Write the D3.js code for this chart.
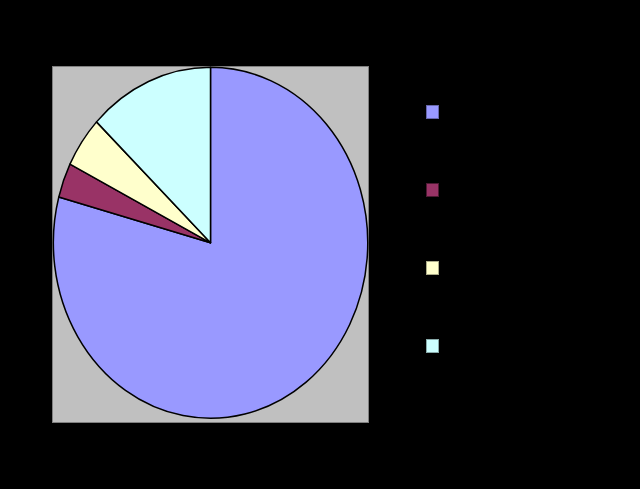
<!DOCTYPE html>
<html><head><meta charset="utf-8">
<script src="https://cdn.jsdelivr.net/npm/d3@7"></script>
<style>html,body{margin:0;padding:0;background:#000;}</style>
</head><body>
<svg id="c" width="640" height="489"></svg>
<script>
const categories = ["1", "2", "3", "4"];
const values = [79.2, 3.2, 4.7, 12.9];
const colors = ["#9999FF", "#993366", "#FFFFCC", "#CCFFFF"];
const borders = ["#6666AA", "#4d1a33", "#AAAA88", "#88AAAA"];

const svg = d3.select("#c");
svg.append("rect").attr("width",640).attr("height",489).attr("fill","#000");

// plot area
svg.append("rect").attr("x",52.5).attr("y",66.5).attr("width",316).attr("height",356)
  .attr("fill","#C0C0C0").attr("stroke","#808080").attr("stroke-width",1);

const cx = 210.5, cy = 242.8, rx = 157.2, ry = 175.5;
const pie = d3.pie().sort(null).value(d => d)
  .startAngle(0).endAngle(2*Math.PI);
const arcs = pie(values);
const arc = d3.arc().innerRadius(0).outerRadius(1);

const g = svg.append("g").attr("transform", `translate(${cx},${cy}) scale(${rx},${ry})`);
g.selectAll("path").data(arcs).enter().append("path")
  .attr("d", arc)
  .attr("fill", (d,i) => colors[i])
  .attr("stroke", "#000")
  .attr("stroke-width", 1.5)
  .attr("vector-effect", "non-scaling-stroke")
  .attr("stroke-linejoin", "round");

// legend
const legend = svg.append("g");
const ly = d3.scalePoint().domain(categories).range([105.5, 339.5]);
categories.forEach((c,i) => {
  legend.append("rect").attr("x",426.5).attr("y",ly(c)).attr("width",12).attr("height",13)
    .attr("fill",colors[i]).attr("stroke",borders[i]).attr("stroke-width",1);
  legend.append("text").attr("x",446).attr("y",ly(c)+11)
    .attr("font-family","Liberation Sans, Arial, sans-serif").attr("font-size",12)
    .attr("fill","#000").text(c);
});
</script>
</body></html>
